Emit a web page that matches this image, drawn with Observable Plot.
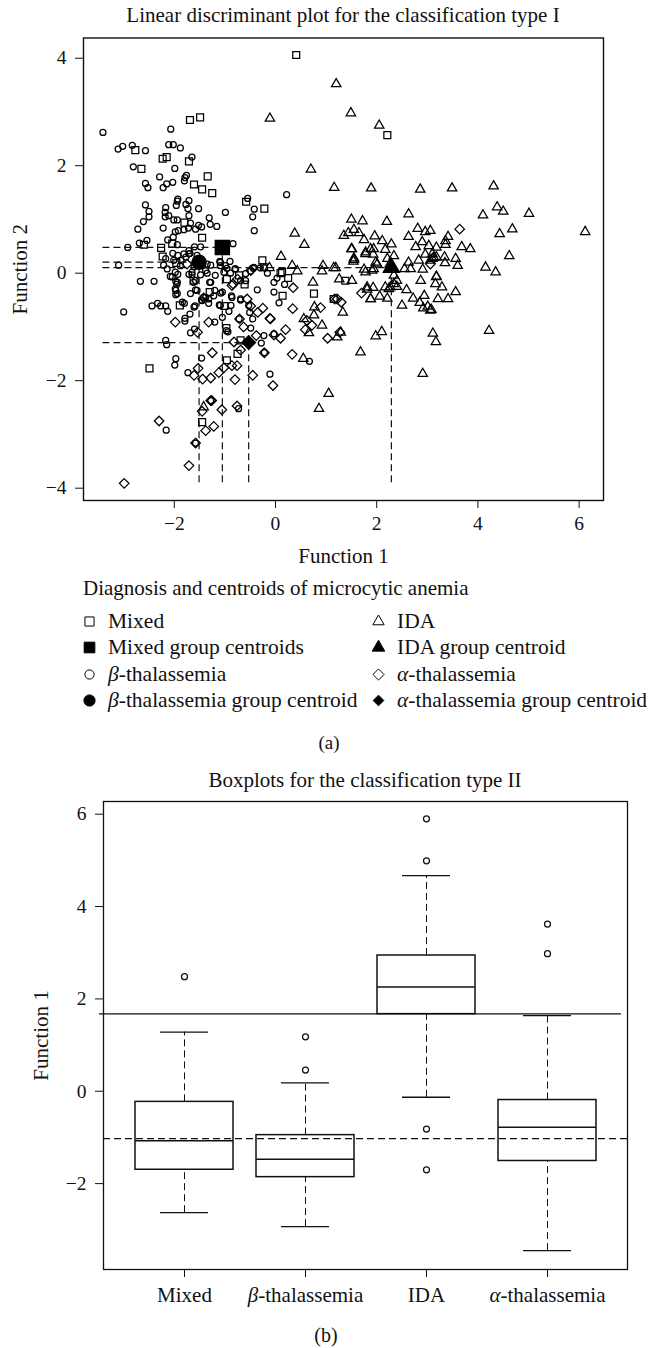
<!DOCTYPE html>
<html><head><meta charset="utf-8">
<script src="https://cdn.jsdelivr.net/npm/d3@7"></script>
<script src="https://cdn.jsdelivr.net/npm/@observablehq/plot@0.6"></script>
<style>
html,body{margin:0;padding:0;background:#fff}
#page{position:relative;width:658px;height:1348px;overflow:hidden;font-family:"Liberation Serif",serif;color:#111}
.t{position:absolute;white-space:nowrap;line-height:1}
.c{transform:translateX(-50%)}
svg{display:block}
.plot{position:absolute;left:0}
.key{position:absolute;width:20px;height:20px}
</style></head><body><div id="page"></div>
<script>
const mixed=[[.41,4.06],[-1.49,2.90],[-1.69,2.85],[-2.77,2.29],[-2.23,2.13],[-2.15,2.16],[-1.71,2.08],[-2.65,1.94],[-1.34,1.80],[-1.61,1.65],[-1.45,1.56],[-1.25,1.49],[-.58,1.33],[-.22,1.20],[-1.80,.94],[-1.45,.66],[-2.60,.53],[-2.26,.47],[-2.04,.55],[-2.23,.31],[-1.96,.19],[-.26,.24],[.13,.02],[.25,-.09],[-.72,-.04],[-.96,-.11],[2.21,2.57],[-2.49,-1.77],[-1.45,-2.77],[-.96,-1.62],[-.75,-1.50],[-.69,-1.25],[-.97,-1.02],[-1.01,-.61],[-1.89,-.60],[-1.62,-.14],[-1.30,-.35],[-.61,-.21],[.14,-.42],[.76,-.38],[1.15,-.48],[.10,0],[-.23,.11],[1.38,-.14]];
const beta=[[-3.41,2.62],[-3.11,2.31],[-3.02,2.36],[-2.83,2.38],[-2.57,2.28],[-2.07,2.68],[-2.11,2.39],[-2.02,2.39],[-1.88,2.33],[-1.65,2.16],[-2.81,1.98],[-1.99,1.95],[-2.29,1.79],[-1.76,1.82],[-1.79,1.78],[-1.80,1.72],[-2.57,1.67],[-2.52,1.59],[-2.22,1.59],[-2.15,1.66],[-2.03,1.69],[.22,1.46],[-.55,1.39],[-1.93,1.38],[-1.94,1.34],[-1.71,1.35],[-2.57,1.27],[-2.17,1.22],[-1.96,1.26],[-1.77,1.28],[-1.52,1.20],[-1.73,1.20],[-.42,1.19],[-.99,1.13],[-2.50,1.15],[-2.18,1.13],[-2.50,1.05],[-2.18,1.05],[-2.11,1.07],[-1.71,1.07],[-.45,1.05],[-1.31,1.03],[-2.61,.96],[-2.01,.99],[-1.94,.99],[-1.68,.93],[-1.29,.91],[-1.16,.87],[-1.52,.89],[-1.46,.86],[-2.22,.84],[-2.72,.82],[-1.72,.84],[-1.81,.81],[-1.58,.82],[-1.92,.79],[-1.98,.77],[-.42,.79],[-2.54,.61],[-2.69,.56],[-2.13,.62],[-2.02,.67],[-2.92,.48],[-.84,.55],[-1.48,.49],[-1.60,.49],[-1.71,.42],[-1.94,.53],[-2.03,.37],[-1.93,.33],[-1.81,.36],[-1.69,.37],[-1.77,.30],[-1.55,.33],[-2.17,.27],[-1.87,.24],[-3.10,.15],[-2.21,.15],[-2.14,.08],[-1.61,.12],[-1.28,.15],[-1.10,.22],[-.99,.14],[-.90,.22],[-1.09,.14],[-.80,.08],[-1.19,-.04],[-1.35,0],[-1.48,-.03],[-1.65,-.03],[-2.08,-.06],[-2.04,-.07],[-1.93,-.02],[-.49,.04],[-.44,.09],[-.30,.10],[-.22,.10],[-.16,0],[-.59,-.01],[-1.02,.02],[-.89,0],[-.96,.09],[-2.67,-.15],[-2.40,-.15],[-1.97,-.15],[-1.95,-.21],[-1.97,-.32],[-1.97,-.40],[-1.71,-.02],[-1.62,-.17],[-1.58,-.31],[-1.68,-.38],[-1.30,-.17],[-1.20,-.32],[-1.08,-.37],[-.87,-.42],[-.69,-.50],[-.36,-.31],[-.03,-.17],[.03,-.09],[-.03,-.35],[.07,-.55],[.18,-.21],[-1.42,-.45],[-1.46,-.50],[-1.32,-.56],[-1.22,-.42],[-1.11,-.59],[-1.84,-.54],[-1.80,-.56],[-2.44,-.61],[-2.33,-.56],[-2.27,-.61],[-2.17,-.61],[-2.13,-.71],[-3.0,-.72],[-1.59,-.61],[-1.69,-.76],[-1.79,-.84],[-1.79,-.89],[-.88,-.60],[-.92,-.71],[-1.05,-.82],[-1.20,-.91],[-.53,-.60],[-.51,-.73],[-.45,-.85],[-.72,-.85],[-1.60,-1.04],[-1.68,-1.11],[-.97,-1.07],[-.94,-1.09],[-.49,-1.02],[-.23,-1.16],[-.03,-1.13],[-.28,-1.30],[-2.17,-1.25],[-2.15,-1.33],[-1.97,-1.59],[-1.99,-1.71],[-1.46,-1.58],[-1.73,-1.85],[-.22,-1.48],[.67,-1.64],[-.11,-1.88],[-1.28,-2.37],[-.73,-2.52],[-2.16,-2.92],[-1.58,-3.16],[-1.88,.14],[-2.01,.24],[-1.71,.36],[-1.98,.02],[-1.94,-.17],[-1.98,-.29],[-1.94,-.38],[-1.65,.02],[-1.58,-.14],[-1.55,-.32],[-1.38,.05],[-1.28,-.17],[-1.05,-.35],[-1.09,.20],[-.79,.08],[-.59,-.14],[-.43,.11],[-.69,-.14],[-1.35,.17],[-1.61,-.63],[-1.09,-.60],[-1.45,-.51],[-1.38,-.45],[-1.32,-.48],[-.86,-.45],[-.69,-.48]];
const ida=[[-.11,2.88],[.70,1.93],[1.16,1.59],[.38,.74],[.57,.53],[.11,.31],[.33,.14],[.43,.04],[.94,.14],[.92,.04],[1.15,.10],[1.20,3.52],[-.12,.10],[1.49,2.98],[2.05,2.75],[1.89,1.58],[2.86,1.56],[3.49,1.58],[4.31,1.62],[4.38,1.23],[4.50,1.15],[4.10,1.08],[5.01,1.11],[2.63,1.10],[1.50,1.00],[1.72,.97],[2.20,.96],[1.55,.81],[1.35,.70],[1.44,.75],[1.65,.75],[2.81,.83],[2.96,.77],[3.06,.79],[2.63,.68],[3.41,.68],[3.36,.60],[3.36,.53],[1.96,.69],[1.75,.62],[2.11,.60],[2.29,.54],[2.90,.58],[3.03,.51],[3.18,.48],[2.77,.49],[3.68,.49],[3.85,.45],[4.43,.73],[4.68,.82],[6.12,.77],[4.62,.32],[1.51,.45],[1.88,.45],[1.78,.39],[1.93,.35],[2.17,.44],[2.34,.32],[1.55,.28],[1.54,.22],[2.21,.27],[2.01,.17],[1.94,.08],[1.75,.07],[2.83,.24],[2.96,.35],[3.10,.36],[3.18,.30],[3.34,.30],[3.35,.19],[3.56,.27],[3.60,.14],[2.91,.07],[2.67,.08],[2.55,.08],[4.15,.11],[4.35,.02],[3.18,-.06],[2.87,-.14],[2.26,.17],[2.29,.08],[2.63,.20],[3.10,.27],[3.06,.24],[3.13,.29],[1.19,.10],[1.26,-.11],[1.51,-.14],[1.81,-.26],[1.93,-.27],[1.88,-.48],[2.06,-.43],[2.21,-.47],[2.17,-.26],[2.27,-.26],[2.40,-.25],[2.59,-.31],[2.72,-.47],[2.50,-.60],[2.94,-.42],[2.85,-.55],[2.92,-.65],[3.01,-.62],[3.08,-.68],[3.06,-.69],[3.21,-.48],[3.41,-.48],[3.56,-.35],[3.18,-.07],[3.16,-.20],[3.29,-.26],[1.33,-.73],[1.29,-1.10],[1.22,-1.19],[1.98,-1.17],[2.10,-1.09],[1.68,-1.47],[3.11,-1.12],[3.17,-1.28],[2.91,-1.87],[4.22,-1.07],[2.34,-.04],[2.40,-.14],[2.34,-.20],[2.24,-.29],[1.05,-2.24],[.86,-2.52],[.55,-1.59],[.74,-.17],[.77,-.63],[.76,-.78],[.92,-.97],[.66,-1.11],[.56,-.85],[-1.42,-2.49],[1.50,.45],[1.55,.25],[1.78,.02],[1.91,.05],[1.98,.20],[1.81,-.30],[1.88,-.48],[1.78,.36],[1.94,.45]];
const alpha=[[-2.99,-3.91],[-1.71,-3.58],[-2.30,-2.75],[-1.58,-3.16],[-1.38,-2.93],[-1.22,-2.85],[-1.45,-2.57],[-1.06,-2.54],[-1.28,-2.37],[-1.26,-2.37],[-.76,-2.47],[-.05,-2.09],[-.45,-1.90],[-.80,-1.98],[-1.28,-1.95],[-1.44,-1.97],[-1.61,-1.90],[-1.53,-1.77],[-1.12,-1.85],[-1.02,-1.76],[-.86,-1.72],[-.76,-1.72],[-1.25,-1.48],[-.22,-1.48],[.33,-1.51],[-1.98,-.91],[-1.32,-.91],[-1.54,-1.10],[-.71,-.85],[-.63,-1.0],[-.82,-1.28],[-.69,-1.43],[-.38,-1.16],[-.11,-.84],[-.03,-1.15],[.10,-1.21],[.20,-1.05],[-.35,-.73],[-.25,-.65],[-.56,-.48],[-.49,-.61],[.34,-.66],[.35,-.27],[.89,-.64],[.59,-1.05],[.72,-.97],[.62,-.88],[1.03,-1.21],[1.27,-1.10],[-.84,-.20],[-1.42,-.46],[1.17,-.48],[-.49,.05],[3.64,.82],[1.70,-.37],[3.06,.17],[1.22,-.48],[1.30,-.54],[-.75,-.11],[-.86,-.23],[-1.75,.17],[-.10,-.85]];
const centroids=[{name:"Mixed",x:-1.05,y:.48,symbol:"square2",r:8.9},{name:"β",x:-1.51,y:.205,symbol:"circle",r:7},{name:"IDA",x:2.29,y:.105,symbol:"triangle2",r:7.6},{name:"α",x:-.53,y:-1.29,symbol:"diamond2",r:6}];
const dashStartX=-3.41, dashStartY=-3.9;
const cats=["Mixed","β-thalassemia","IDA","α-thalassemia"];
const q1=[-1.70,-1.86,1.67,-1.51], med=[-1.07,-1.47,2.26,-.78], q3=[-.23,-.95,2.94,-.19], lo=[-2.63,-2.93,-.13,-3.45], hi=[1.28,.18,4.67,1.64];
const outliers=[["Mixed",2.48],["β-thalassemia",.46],["β-thalassemia",1.18],["IDA",5.90],["IDA",4.99],["IDA",-.82],["IDA",-1.70],["α-thalassemia",3.62],["α-thalassemia",2.98]];
const solidCut=1.675, dashCut=-1.025;
const boxes=cats.map((c,i)=>({c,q1:q1[i],med:med[i],q3:q3[i],lo:lo[i],hi:hi[i]}));
const legendRows=[["square2","none","Mixed",621],["square2","#000","Mixed group centroids",647],["circle","none","<i>β</i>-thalassemia",674],["circle","#000","<i>β</i>-thalassemia group centroid",700]];
const legendRows2=[["triangle2","none","IDA",621],["triangle2","#000","IDA group centroid",647],["diamond2","none","<i>α</i>-thalassemia",674],["diamond2","#000","<i>α</i>-thalassemia group centroid",700]];

const page=document.getElementById("page");
const FONT='"Liberation Serif",serif';
const dash="7,4";
const keyR={square2:[5.8,6.8],circle:[4.6,5.6],triangle2:[5.4,6],diamond2:[5,4.8]};
function text(html,left,top,size,center){
  const d=document.createElement("div");d.className="t"+(center?" c":"");d.innerHTML=html;
  d.style.left=left+"px";d.style.top=top+"px";d.style.fontSize=size+"px";page.appendChild(d);return d;
}
const pts=(data,symbol,r)=>Plot.dot(data,{x:d=>d[0],y:d=>d[1],symbol:()=>symbol,r,fill:"none",stroke:"#000",strokeWidth:1.25});
const fmt=d=>d<0?"−"+(-d):d;

const a=Plot.plot({
  width:658,height:570,marginLeft:83,marginRight:55,marginTop:37.5,marginBottom:70,
  style:{fontFamily:FONT,fontSize:"19.5px",background:"#fff",color:"#111"},
  x:{domain:[-3.794,6.482]},y:{domain:[-4.229,4.376]},
  symbol:{type:"identity"},
  marks:[
    Plot.frame({stroke:"#111",strokeWidth:1.4}),
    Plot.axisX({ticks:[-2,0,2,4,6],tickSize:8,tickPadding:8,label:null,tickFormat:fmt}),
    Plot.axisY({ticks:[-4,-2,0,2,4],tickSize:8,tickPadding:9,label:null,tickFormat:fmt}),
    Plot.axisX({ticks:[],tickSize:0,label:"Function 1",labelAnchor:"center",labelArrow:"none",labelOffset:62,fontSize:21}),
    Plot.axisY({ticks:[],tickSize:0,label:"Function 2",labelAnchor:"center",labelArrow:"none",labelOffset:71,fontSize:21}),
    pts(mixed,"square2",4.4),pts(beta,"circle",3),pts(ida,"triangle2",4.5),pts(alpha,"diamond2",4.3),
    Plot.ruleY(centroids,{y:"y",x1:dashStartX,x2:"x",stroke:"#111",strokeWidth:1.2,strokeDasharray:dash}),
    Plot.ruleX(centroids,{x:"x",y1:dashStartY,y2:"y",stroke:"#111",strokeWidth:1.2,strokeDasharray:dash}),
    ...centroids.map(c=>Plot.dot([c],{x:"x",y:"y",symbol:()=>c.symbol,r:c.r,fill:"#000",stroke:"#000"}))
  ]
});
a.classList.add("plot");a.style.top="0px";page.appendChild(a);

const b=Plot.plot({
  width:658,height:1348-770,marginLeft:103,marginRight:31,marginTop:31,marginBottom:79,
  style:{fontFamily:FONT,fontSize:"19.5px",background:"transparent",color:"#111"},
  x:{type:"band",domain:cats,paddingInner:.194,paddingOuter:.255,label:null},
  y:{domain:[-3.86,6.275]},
  marks:[
    Plot.frame({stroke:"#111",strokeWidth:1.3}),
    Plot.axisX({tickSize:8,tickPadding:10,label:null,fontSize:21}),
    Plot.axisY({ticks:[-2,0,2,4,6],tickSize:8,tickPadding:9,label:null,tickFormat:fmt}),
    Plot.axisY({ticks:[],tickSize:0,label:"Function 1",labelAnchor:"center",labelArrow:"none",labelOffset:70,fontSize:21}),
    Plot.ruleX(boxes,{x:"c",y1:"lo",y2:"q1",stroke:"#111",strokeWidth:1,strokeDasharray:dash}),
    Plot.ruleX(boxes,{x:"c",y1:"q3",y2:"hi",stroke:"#111",strokeWidth:1,strokeDasharray:dash}),
    Plot.tickY(boxes,{x:"c",y:"lo",stroke:"#111",strokeWidth:1.3,insetLeft:25,insetRight:25}),
    Plot.tickY(boxes,{x:"c",y:"hi",stroke:"#111",strokeWidth:1.3,insetLeft:25,insetRight:25}),
    Plot.barY(boxes,{x:"c",y1:"q1",y2:"q3",fill:"#fff",stroke:"#111",strokeWidth:1.5}),
    Plot.tickY(boxes,{x:"c",y:"med",stroke:"#111",strokeWidth:1.5}),
    Plot.dot(outliers,{x:d=>d[0],y:d=>d[1],r:3,fill:"none",stroke:"#111",strokeWidth:1.25}),
    Plot.ruleY([solidCut],{stroke:"#111",strokeWidth:1.3,insetLeft:-4,insetRight:6}),
    Plot.ruleY([dashCut],{stroke:"#111",strokeWidth:1.2,strokeDasharray:dash})
  ]
});
b.classList.add("plot");b.style.top="770px";page.appendChild(b);
d3.select(b).selectAll("text").each(function(){
  const s=this.textContent;
  if(s[0]==="β"||s[0]==="α"){
    const target=this.querySelector("tspan")||this;
    target.textContent="";
    d3.select(target).append("tspan").style("font-style","italic").text(s[0]);
    d3.select(target).append("tspan").text(s.slice(1));
  }
});

text("Linear discriminant plot for the classification type I",343,4.5,21,true);
text("Diagnosis and centroids of microcytic anemia",83,577.5,21);
function legend(rows,sx,tx){
  for(const [symbol,fill,label,y] of rows){
    const k=Plot.plot({width:20,height:20,margin:0,axis:null,
      marks:[Plot.dot([0],{frameAnchor:"middle",symbol:()=>symbol,r:keyR[symbol][fill==="none"?0:1],fill,stroke:"#000",strokeWidth:1})]});
    k.classList.add("key");k.style.left=(sx-10)+"px";k.style.top=(y-10)+"px";k.style.background="transparent";page.appendChild(k);
    text(label,tx,y-10.5,21.5);
  }
}
legend(legendRows,89,108);legend(legendRows2,378,397);
text("(a)",329,733,19,true);
text("Boxplots for the classification type II",365,769.5,21,true);
text("(b)",326,1325,20,true);
</script></body></html>
